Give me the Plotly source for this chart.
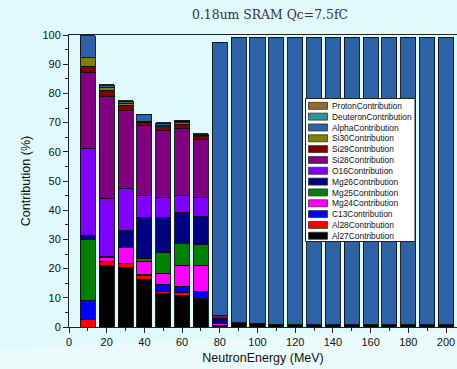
import plotly.graph_objects as go

energies = [10, 20, 30, 40, 50, 60, 70, 80, 90, 100, 110, 120, 130, 140, 150, 160, 170, 180, 190, 200]

series_names = ["Al27Contribution", "Al28Contribution", "C13Contribution", "Mg24Contribution",
                "Mg25Contribution", "Mg26Contribution", "O16Contribution", "Si28Contribution",
                "Si29Contribution", "Si30Contribution", "AlphaContribution", "DeuteronContribution",
                "ProtonContribution"]
series_colors = ["#000000", "#ff0000", "#0000ff", "#ff00ff", "#008000", "#000080", "#8000ff",
                 "#800080", "#800000", "#808000", "#2e62a6", "#2a9696", "#9c6428"]

al27 = [0, 21.0, 20.4, 16.3, 11.4, 10.7, 9.4, 0.4, 1.4, 1.3, 0.9, 0.8, 0.8, 0.8, 0.8, 1.0, 0.7, 0.7, 0.7, 0.7]
al28 = [2.4, 1.4, 1.3, 1.5, 0.9, 1.2, 0.4, 0, 0, 0, 0, 0, 0, 0, 0, 0, 0, 0, 0, 0]
c13 = [6.8, 0, 0, 0.2, 2.3, 2.1, 2.5, 0, 0, 0, 0, 0, 0, 0, 0, 0, 0, 0, 0, 0]
mg24 = [0, 1.3, 5.6, 4.6, 3.8, 7.2, 8.6, 0.8, 0, 0, 0, 0, 0, 0, 0, 0, 0, 0, 0, 0]
mg25 = [20.7, 0, 0, 0.9, 7.1, 7.3, 7.2, 0, 0, 0, 0, 0, 0, 0, 0, 0, 0, 0, 0, 0]
mg26 = [1.4, 0.6, 5.6, 13.9, 11.9, 10.8, 9.7, 1.8, 0, 0, 0, 0, 0, 0, 0, 0, 0, 0, 0, 0]
o16 = [29.8, 19.8, 14.6, 7.6, 7.1, 5.8, 6.4, 0, 0, 0, 0, 0, 0, 0, 0, 0, 0, 0, 0, 0]
si28 = [26.1, 35.0, 26.6, 24.0, 22.9, 22.9, 20.0, 0.8, 0, 0, 0, 0, 0, 0, 0, 0, 0, 0, 0, 0]
si29 = [2.1, 2.0, 1.9, 1.1, 1.1, 1.4, 1.0, 0, 0, 0, 0, 0, 0, 0, 0, 0, 0, 0, 0, 0]
si30 = [2.9, 0.9, 0.5, 0.4, 0.5, 0.5, 0.3, 0, 0, 0, 0, 0, 0, 0, 0, 0, 0, 0, 0, 0]
alpha = [7.6, 0.6, 0.6, 2.3, 0.6, 0.6, 0.2, 93.7, 97.8, 97.9, 98.3, 98.4, 98.4, 98.4, 98.4, 98.2, 98.5, 98.5, 98.5, 98.5]
deuteron = [0, 0.1, 0.2, 0, 0.2, 0.2, 0.1, 0, 0, 0, 0, 0, 0, 0, 0, 0, 0, 0, 0, 0]
proton = [0, 0.2, 0.2, 0, 0.2, 0.1, 0.3, 0, 0, 0, 0, 0, 0, 0, 0, 0, 0, 0, 0, 0]

series_values = [al27, al28, c13, mg24, mg25, mg26, o16, si28, si29, si30, alpha, deuteron, proton]

title_text = "0.18um SRAM Qc=7.5fC"
x_title = "NeutronEnergy (MeV)"
y_title = "Contribution (%)"

# layout geometry (pixels)
W, H = 457, 369
ML, MR, MT, MB = 69, 0, 35, 42
PW, PH = W - ML - MR, H - MT - MB


def px2x(px):
    return (px - ML) / PW


def py2y(py):
    return (H - MB - py) / PH


fig = go.Figure()
for name, color, vals in zip(series_names, series_colors, series_values):
    fig.add_trace(go.Bar(
        x=energies,
        y=[v if v else None for v in vals],
        name=name,
        width=8,
        marker=dict(color=color, line=dict(color="#101010", width=0.9)),
        showlegend=False,
    ))

font_sans = "Liberation Sans, Arial, sans-serif"

shapes = []
annotations = []

# subtle light swoosh in the bottom background
sw = "M {x0},{y0} Q {xm},{ym} {x1},{y1} L {x1},{y2} L {x0},{y2} Z".format(
    x0=px2x(0), y0=py2y(350), xm=px2x(230), ym=py2y(336), x1=px2x(457), y1=py2y(330), y2=py2y(369))
shapes.append(dict(type="path", xref="paper", yref="paper", path=sw,
                   fillcolor="rgba(255,255,255,0.35)", line=dict(width=0), layer="below"))

# legend box (manual)
lx0, lx1, ly0, ly1 = 305.5, 415.0, 98.5, 241.5
shapes.append(dict(type="rect", xref="paper", yref="paper",
                   x0=px2x(lx0), x1=px2x(lx1), y0=py2y(ly1), y1=py2y(ly0),
                   fillcolor="white", line=dict(color="#222222", width=1), layer="above"))
pitch = 10.83
for i, (name, color) in enumerate(reversed(list(zip(series_names, series_colors)))):
    top = 102.3 + i * pitch
    shapes.append(dict(type="rect", xref="paper", yref="paper",
                       x0=px2x(308.5), x1=px2x(327.5), y0=py2y(top + 7), y1=py2y(top),
                       fillcolor=color, line=dict(color="#333333", width=0.8), layer="above"))
    annotations.append(dict(xref="paper", yref="paper", x=px2x(330.0), y=py2y(top + 3.6),
                            xanchor="left", yanchor="middle", showarrow=False, text=name,
                            font=dict(family=font_sans, size=8.4, color="#111111")))

fig.update_layout(
    width=W, height=H,
    margin=dict(l=ML, r=MR, t=MT, b=MB, pad=0),
    barmode="stack",
    paper_bgcolor="#e0f9fa",
    plot_bgcolor="#e0f9fa",
    showlegend=False,
    title=dict(text=title_text, x=270 / W, xref="container", xanchor="center",
               y=1 - 15 / H, yref="container", yanchor="middle",
               font=dict(family="DejaVu Serif, serif", size=12.4, color="#333333")),
    xaxis=dict(range=[0, (W - ML) / 1.885], tickmode="linear", tick0=0, dtick=20,
               ticks="outside", ticklen=5, tickwidth=1, tickcolor="#222",
               minor=dict(dtick=10, ticks="outside", ticklen=3, tickcolor="#222"),
               showline=True, linecolor="#222", linewidth=1, mirror=True,
               showgrid=False, zeroline=False,
               tickfont=dict(family=font_sans, size=11, color="#111"),
               title=dict(text=x_title, font=dict(family=font_sans, size=12.5, color="#111"), standoff=6)),
    yaxis=dict(range=[0, 100], tickmode="linear", tick0=0, dtick=10,
               ticks="outside", ticklen=5, tickwidth=1, tickcolor="#222",
               minor=dict(dtick=5, ticks="outside", ticklen=3, tickcolor="#222"),
               showline=True, linecolor="#222", linewidth=1,
               showgrid=False, zeroline=False,
               tickfont=dict(family=font_sans, size=11, color="#111"),
               title=dict(text=y_title, font=dict(family=font_sans, size=12.5, color="#111"), standoff=9)),
    shapes=shapes,
    annotations=annotations,
)

fig.write_html("out.html")
